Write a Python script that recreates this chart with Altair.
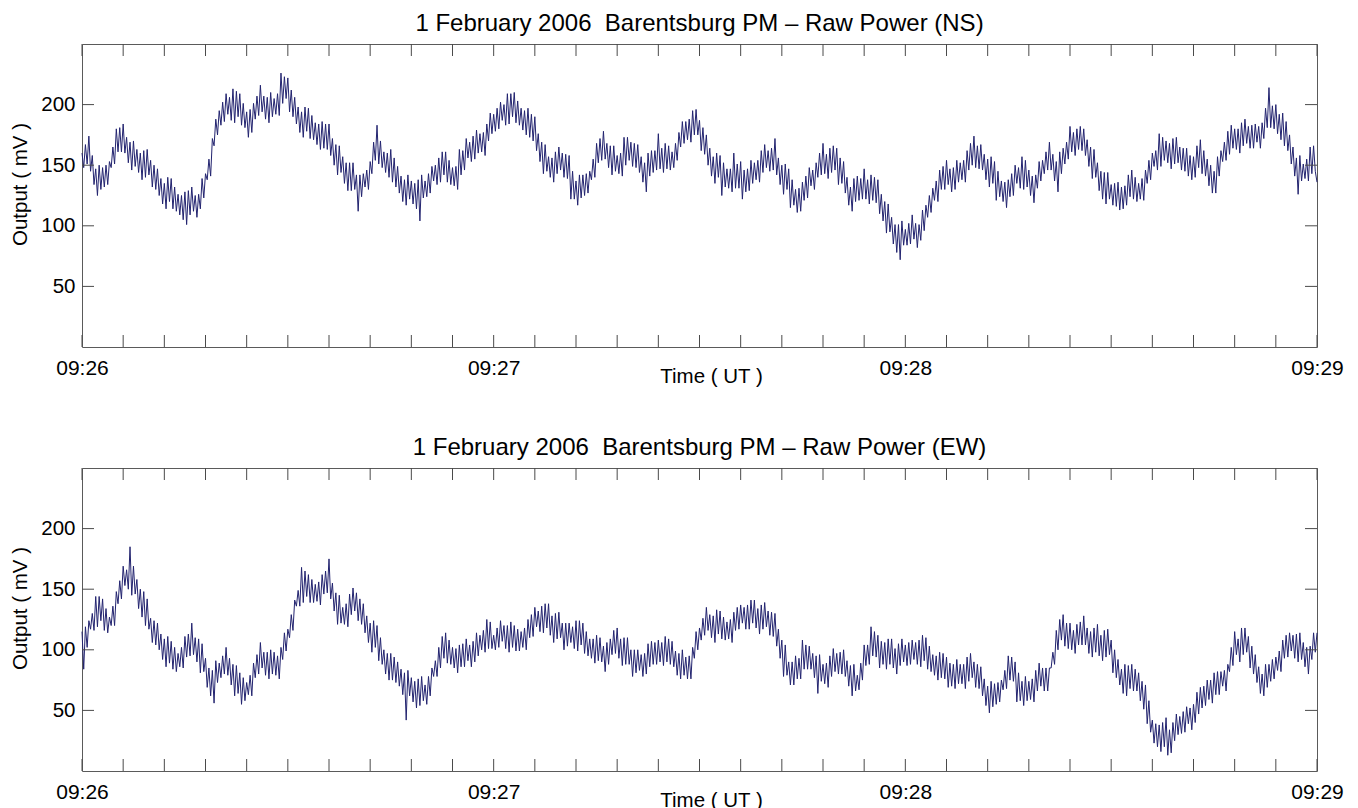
import altair as alt
import pandas as pd

FONT = "Liberation Sans, Arial, Helvetica, sans-serif"
TITLE_NS = "1 February 2006\u00a0 Barentsburg PM \u2013 Raw Power (NS)"
TITLE_EW = "1 February 2006\u00a0 Barentsburg PM \u2013 Raw Power (EW)"
X_TITLE = "Time ( UT )"
Y_TITLE = "Output ( mV )"
X_TICK_LABELS = ["09:26", "09:27", "09:28", "09:29"]
X_LABEL_SECONDS = [0, 60, 120, 180]
X_MINOR_SECONDS = [0, 6, 12, 18, 24, 30, 36, 42, 48, 54, 60, 66, 72, 78, 84, 90,
                   96, 102, 108, 114, 120, 126, 132, 138, 144, 150, 156, 162, 168, 174, 180]
Y_TICKS = [50, 100, 150, 200]
SAMPLE_STEP_S = 0.25  # seconds between samples, starting 09:26:00

# Samples. For every second, *_VALUES holds the
# readings at +0.00 s and +0.25 s, *_EXTRA the readings at +0.50 s and +0.75 s.
NS_VALUES = [
    160, 148, 174, 145, 147, 125, 148, 132, 153, 148,
    180, 161, 184, 160, 169, 146, 163, 144, 162, 140,
    154, 132, 147, 125, 135, 114, 139, 114, 126, 109,
    128, 101, 132, 112, 126, 114, 143, 138, 172, 166,
    195, 183, 209, 192, 213, 185, 209, 183, 194, 173,
    201, 188, 216, 194, 206, 185, 205, 192, 226, 201,
    222, 194, 206, 184, 194, 173, 197, 172, 185, 167,
    186, 164, 184, 158, 167, 142, 157, 135, 152, 129,
    142, 112, 143, 132, 153, 143, 183, 151, 161, 144,
    163, 136, 149, 127, 138, 117, 137, 118, 138, 104,
    137, 124, 149, 137, 156, 136, 161, 136, 148, 133,
    163, 142, 172, 156, 174, 155, 176, 161, 184, 170,
    192, 178, 202, 187, 209, 184, 210, 185, 197, 179,
    197, 173, 190, 162, 169, 143, 157, 140, 161, 143,
    160, 140, 158, 122, 137, 117, 142, 125, 145, 138,
    168, 152, 178, 155, 166, 142, 158, 143, 173, 150,
    169, 149, 167, 144, 152, 128, 162, 144, 176, 147,
    168, 147, 161, 148, 177, 165, 186, 171, 195, 175,
    187, 162, 175, 150, 157, 135, 158, 125, 147, 131,
    160, 131, 153, 122, 147, 129, 152, 138, 162, 144,
    162, 145, 172, 142, 150, 126, 147, 115, 130, 111,
    136, 121, 148, 133, 152, 140, 168, 143, 164, 144,
    164, 134, 153, 127, 132, 112, 141, 121, 147, 122,
    142, 121, 138, 110, 120, 94, 107, 85, 101, 72,
    97, 84, 109, 89, 101, 88, 117, 107, 131, 121,
    146, 130, 154, 134, 148, 130, 152, 138, 162, 146,
    174, 148, 167, 146, 155, 132, 153, 121, 137, 120,
    138, 124, 150, 135, 157, 130, 146, 125, 142, 131,
    154, 143, 169, 146, 153, 128, 164, 151, 182, 161,
    180, 163, 180, 158, 165, 139, 152, 129, 144, 118,
    134, 117, 136, 113, 133, 117, 146, 122, 135, 122,
    146, 135, 160, 149, 176, 149, 170, 152, 172, 151,
    165, 146, 164, 141, 157, 140, 171, 143, 155, 133,
    145, 127, 162, 153, 178, 159, 180, 163, 185, 166,
    182, 164, 184, 169, 185, 172, 214, 181, 200, 176,
    193, 166, 175, 151, 156, 126, 151, 139, 165, 143, 136,
]

NS_EXTRA = [
    167, 151, 158, 134, 150, 130, 150, 134, 165, 151, 181, 161, 173, 152, 170, 149, 160, 138, 163, 142,
    150, 130, 139, 118, 140, 120, 132, 112, 125, 105, 129, 109, 125, 107, 139, 123, 155, 141, 188, 175,
    202, 186, 206, 187, 211, 190, 201, 181, 196, 177, 207, 191, 207, 188, 210, 190, 209, 191, 223, 205,
    212, 190, 198, 177, 198, 178, 191, 171, 184, 163, 184, 163, 172, 150, 166, 144, 152, 129, 152, 130,
    142, 124, 146, 130, 169, 154, 170, 148, 160, 140, 156, 132, 141, 120, 142, 122, 135, 114, 142, 123,
    143, 127, 150, 134, 161, 142, 154, 134, 149, 130, 162, 146, 169, 153, 179, 160, 177, 158, 193, 176,
    197, 180, 200, 183, 209, 190, 203, 183, 195, 175, 192, 170, 176, 153, 167, 145, 156, 136, 165, 146,
    159, 139, 145, 122, 142, 123, 143, 127, 155, 140, 172, 154, 168, 148, 166, 145, 160, 141, 173, 154,
    168, 148, 157, 136, 160, 141, 162, 146, 164, 144, 166, 146, 168, 154, 186, 168, 188, 169, 196, 175,
    181, 159, 164, 141, 160, 140, 152, 132, 147, 128, 151, 131, 146, 128, 154, 135, 154, 136, 167, 148,
    164, 146, 156, 134, 151, 130, 138, 117, 131, 112, 141, 123, 146, 130, 160, 142, 159, 139, 166, 146,
    156, 135, 140, 117, 139, 120, 139, 122, 138, 118, 140, 119, 126, 104, 118, 95, 101, 78, 104, 84,
    102, 85, 102, 82, 113, 96, 125, 111, 137, 120, 149, 130, 147, 128, 154, 136, 154, 136, 168, 150,
    166, 147, 159, 138, 157, 135, 145, 124, 136, 115, 143, 125, 148, 131, 154, 132, 141, 119, 153, 137,
    161, 146, 159, 137, 161, 143, 169, 155, 177, 158, 182, 162, 171, 149, 163, 140, 145, 122, 144, 122,
    135, 116, 132, 114, 142, 124, 140, 120, 139, 121, 154, 138, 162, 146, 173, 154, 168, 147, 173, 152,
    164, 145, 158, 138, 166, 148, 162, 141, 150, 127, 157, 141, 169, 154, 183, 164, 180, 160, 188, 168,
    183, 164, 182, 164, 197, 181, 199, 180, 192, 171, 186, 162, 165, 141, 158, 137, 155, 137, 166, 145,
]

EW_VALUES = [
    115, 84, 124, 117, 144, 119, 142, 116, 127, 120,
    148, 138, 169, 153, 185, 145, 158, 134, 148, 120,
    126, 106, 122, 100, 109, 86, 107, 84, 97, 86,
    111, 94, 122, 96, 109, 81, 93, 69, 83, 56,
    89, 77, 102, 79, 88, 62, 81, 55, 73, 63,
    89, 77, 106, 85, 98, 76, 98, 79, 102, 92,
    117, 110, 141, 136, 168, 139, 162, 139, 154, 140,
    162, 146, 175, 142, 147, 121, 135, 121, 146, 129,
    147, 124, 138, 114, 122, 98, 120, 91, 100, 80,
    97, 75, 90, 70, 81, 42, 77, 57, 76, 54,
    71, 55, 85, 78, 102, 85, 114, 89, 102, 85,
    104, 86, 109, 91, 107, 90, 112, 100, 125, 101,
    112, 100, 124, 107, 120, 98, 120, 99, 115, 102,
    125, 110, 135, 119, 136, 114, 138, 112, 130, 109,
    122, 100, 122, 106, 124, 99, 122, 97, 109, 93,
    112, 91, 103, 82, 109, 96, 118, 93, 110, 88,
    100, 78, 100, 83, 97, 80, 107, 88, 108, 90,
    111, 90, 107, 86, 97, 76, 94, 76, 102, 93,
    118, 108, 135, 116, 128, 106, 132, 109, 123, 109,
    131, 116, 137, 122, 137, 117, 141, 118, 137, 117,
    132, 112, 130, 103, 108, 78, 90, 71, 95, 76,
    108, 84, 103, 84, 95, 64, 88, 72, 95, 78,
    97, 80, 100, 78, 87, 62, 79, 67, 104, 87,
    119, 95, 112, 85, 106, 84, 109, 85, 105, 87,
    104, 87, 108, 92, 108, 86, 110, 84, 96, 79,
    98, 77, 94, 69, 88, 68, 88, 72, 94, 74,
    90, 69, 86, 62, 70, 48, 72, 55, 75, 67,
    95, 75, 90, 57, 74, 54, 74, 59, 83, 66,
    85, 66, 85, 85, 116, 100, 129, 103, 122, 100,
    121, 104, 128, 104, 115, 94, 121, 95, 116, 94,
    108, 81, 92, 71, 88, 62, 88, 66, 81, 58,
    71, 39, 42, 23, 38, 16, 44, 13, 40, 25,
    45, 31, 53, 39, 55, 40, 69, 52, 75, 59,
    81, 63, 82, 70, 88, 82, 115, 96, 118, 96,
    111, 85, 96, 73, 80, 62, 88, 74, 94, 83,
    108, 93, 114, 99, 113, 90, 106, 86, 103, 92, 114,
]

EW_EXTRA = [
    119, 102, 130, 116, 144, 124, 134, 114, 136, 120, 157, 142, 166, 150, 169, 146, 150, 127, 142, 117,
    124, 104, 113, 92, 111, 89, 102, 82, 102, 85, 113, 95, 110, 90, 105, 82, 85, 62, 91, 73,
    95, 80, 93, 71, 87, 64, 77, 58, 79, 62, 96, 80, 98, 79, 100, 80, 95, 76, 114, 99,
    129, 116, 149, 136, 165, 144, 158, 139, 156, 137, 165, 147, 155, 132, 145, 122, 138, 119, 151, 132,
    142, 121, 128, 106, 124, 102, 110, 88, 97, 75, 94, 73, 84, 63, 83, 62, 74, 52, 78, 58,
    78, 62, 91, 78, 111, 93, 108, 88, 101, 81, 105, 86, 104, 86, 114, 95, 116, 98, 123, 101,
    118, 102, 120, 101, 123, 102, 117, 99, 118, 100, 129, 111, 132, 115, 138, 118, 128, 106, 131, 110,
    122, 103, 119, 101, 124, 104, 115, 95, 109, 89, 110, 90, 106, 88, 116, 97, 109, 87, 110, 88,
    100, 81, 96, 78, 105, 86, 106, 88, 106, 87, 109, 88, 99, 79, 100, 79, 95, 76, 115, 100,
    126, 112, 129, 110, 133, 113, 127, 108, 125, 106, 135, 117, 135, 117, 141, 122, 134, 113, 139, 119,
    131, 111, 117, 93, 104, 79, 90, 71, 93, 76, 104, 84, 97, 77, 96, 74, 89, 69, 101, 82,
    98, 80, 91, 70, 88, 66, 89, 75, 104, 88, 115, 94, 107, 88, 109, 88, 101, 80, 109, 90,
    106, 88, 106, 88, 112, 91, 103, 82, 95, 75, 97, 76, 89, 70, 92, 72, 88, 68, 97, 77,
    88, 68, 76, 54, 74, 53, 73, 57, 83, 68, 94, 74, 81, 58, 78, 58, 76, 57, 89, 70,
    85, 66, 98, 88, 125, 108, 122, 101, 116, 97, 123, 104, 118, 97, 118, 98, 112, 91, 117, 96,
    100, 77, 84, 64, 87, 68, 84, 66, 74, 51, 58, 32, 39, 20, 40, 20, 34, 15, 47, 30,
    49, 32, 52, 34, 65, 47, 70, 54, 75, 56, 82, 63, 83, 66, 102, 87, 109, 90, 118, 98,
    103, 80, 86, 64, 88, 69, 92, 76, 99, 82, 112, 94, 112, 93, 114, 92, 102, 80, 114, 98,
]

W, H = 1235, 303
TICK_LEN = 12
LINE_COLOR = "#22236f"
TICK_COLOR = "#4a4a4a"
FRAME_COLOR = "#5a5a5a"

label_expr = "[" + ",".join("'%s'" % s for s in X_TICK_LABELS) + "][round(datum.value / 60)]"

XS = alt.Scale(domain=[0, 180], nice=False, zero=False)
YS = alt.Scale(domain=[0, 250], nice=False, zero=False)
XAXIS = alt.Axis(
    values=X_LABEL_SECONDS, labelExpr=label_expr, title=X_TITLE,
    grid=False, domain=False, ticks=False, tickSize=0,
    labelPadding=10, labelFlush=False, labelOverlap=False,
    labelFontSize=21, labelFont=FONT, labelColor="black",
    titleFontSize=20.5, titleFont=FONT, titleFontWeight="normal", titleColor="black",
    titleX=629, titleY=35, titleBaseline="alphabetic", titleAlign="center",
)
YAXIS = alt.Axis(
    values=Y_TICKS, title=Y_TITLE,
    grid=False, domain=False, ticks=False, tickSize=0,
    labelPadding=7, labelOverlap=False,
    labelFontSize=20.5, labelFont=FONT, labelColor="black",
    titleFontSize=20.5, titleFont=FONT, titleFontWeight="normal", titleColor="black",
    titleX=-56, titleY=140, titleBaseline="alphabetic", titleAlign="center",
)


def interleave(first, extra):
    out = []
    for k in range(len(extra) // 2):
        out += [first[2 * k], first[2 * k + 1], extra[2 * k], extra[2 * k + 1]]
    out.append(first[-1])
    return out


def panel(first, extra, title):
    values = interleave(first, extra)
    df = pd.DataFrame({"t": [i * SAMPLE_STEP_S for i in range(len(values))], "v": values})
    line = alt.Chart(df).mark_line(color=LINE_COLOR, strokeWidth=1.0).encode(
        x=alt.X("t:Q", scale=XS, axis=XAXIS),
        y=alt.Y("v:Q", scale=YS, axis=YAXIS),
    )
    xt = pd.DataFrame({"t": X_MINOR_SECONDS})
    yt = pd.DataFrame({"v": Y_TICKS})
    bottom = alt.Chart(xt).mark_rule(color=TICK_COLOR, strokeWidth=1).encode(
        x=alt.X("t:Q", scale=XS, axis=XAXIS), y=alt.value(H), y2=alt.value(H - TICK_LEN))
    top = alt.Chart(xt).mark_rule(color=TICK_COLOR, strokeWidth=1).encode(
        x=alt.X("t:Q", scale=XS, axis=XAXIS), y=alt.value(0), y2=alt.value(TICK_LEN))
    left = alt.Chart(yt).mark_rule(color=TICK_COLOR, strokeWidth=1).encode(
        y=alt.Y("v:Q", scale=YS, axis=YAXIS), x=alt.value(0), x2=alt.value(TICK_LEN))
    right = alt.Chart(yt).mark_rule(color=TICK_COLOR, strokeWidth=1).encode(
        y=alt.Y("v:Q", scale=YS, axis=YAXIS), x=alt.value(W - TICK_LEN), x2=alt.value(W))
    return alt.layer(line, bottom, top, left, right).properties(
        width=W, height=H,
        title=alt.TitleParams(title, fontSize=24, font=FONT, fontWeight="normal", color="black",
                              anchor="middle", frame="group", offset=8),
    )


chart = alt.vconcat(
    panel(NS_VALUES, NS_EXTRA, TITLE_NS),
    panel(EW_VALUES, EW_EXTRA, TITLE_EW),
    spacing=48,
).properties(
    padding={"left": 1, "top": 3, "right": 5, "bottom": 2},
    background="white",
).configure_view(stroke=FRAME_COLOR, strokeWidth=1)

chart.save("out.html", embed_options={"renderer": "svg", "actions": False})
